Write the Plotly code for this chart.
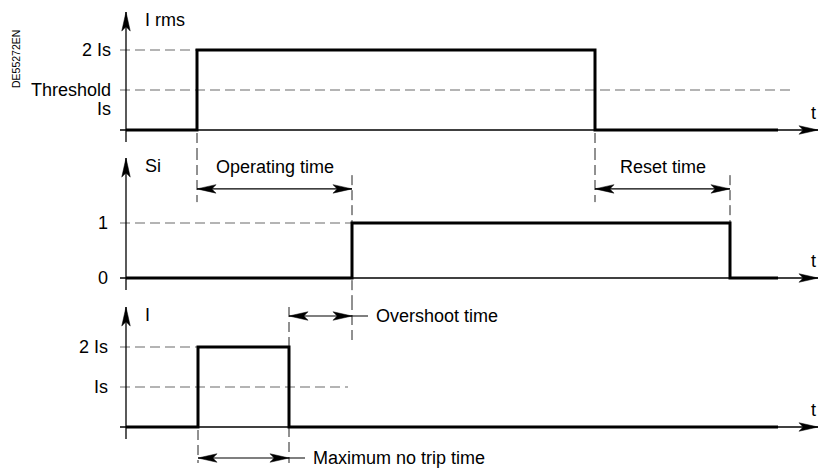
import plotly.graph_objects as go

# ---------------- data ----------------
irms_t = [0, 7.1, 7.1, 46.9, 46.9, 65.2]
irms_v = [0, 0, 2, 2, 0, 0]
si_t = [0, 22.6, 22.6, 60.4, 60.4, 65.2]
si_v = [0, 0, 1, 1, 0, 0]
i_t = [0, 7.2, 7.2, 16.3, 16.3, 65.2]
i_v = [0, 0, 2, 2, 0, 0]

irms_tickvals = [2, 1]
irms_ticktext = ["2 Is", "Threshold"]
si_tickvals = [1, 0]
si_ticktext = ["1", "0"]
i_tickvals = [2, 1]
i_ticktext = ["2 Is", "Is"]

axis_titles = ["I rms", "Si", "I"]
dim_labels = ["Operating time", "Reset time", "Overshoot time", "Maximum no trip time"]
t_axis_end = 69.2
threshold_end = 66.9
i_is_end = 22.2
doc_ref = "DE55272EN"

# ---------------- geometry ----------------
W, H = 822, 468
X_RANGE = [-12.6, 69.6]
PANELS = [
    dict(p0=0, p1=150, rng=[-0.5, 3.25], top=2.95),
    dict(p0=150, p1=300, rng=[-0.4, 2.3273], top=2.18),
    dict(p0=300, p1=468, rng=[-1.025, 3.175], top=3.0),
]
SX = (X_RANGE[1] - X_RANGE[0]) / W


def sy(k):
    p = PANELS[k]
    return (p["rng"][1] - p["rng"][0]) / (p["p1"] - p["p0"])


def ax(k):
    return ("x", "y") if k == 0 else ("x%d" % (k + 1), "y%d" % (k + 1))


FONT = "Liberation Sans, Arial, Helvetica, sans-serif"
fig = go.Figure()


def line(k, xs, ys, color="black", width=1.3, dash=None):
    xa, ya = ax(k)
    fig.add_trace(go.Scatter(x=xs, y=ys, mode="lines", xaxis=xa, yaxis=ya,
                             line=dict(color=color, width=width, dash=dash),
                             hoverinfo="skip", showlegend=False))


def arrowhead(k, tx, ty, ux, uy, L=19, Wd=8.5, notch=0.78):
    nx, ny = -uy, ux
    pts = [(0, 0),
           (-L * ux + Wd / 2 * nx, -L * uy + Wd / 2 * ny),
           (-L * notch * ux, -L * notch * uy),
           (-L * ux - Wd / 2 * nx, -L * uy - Wd / 2 * ny),
           (0, 0)]
    xa, ya = ax(k)
    fig.add_trace(go.Scatter(x=[tx + a * SX for a, b in pts],
                             y=[ty + b * sy(k) for a, b in pts],
                             mode="lines", fill="toself", fillcolor="black",
                             line=dict(color="black", width=0.5),
                             xaxis=xa, yaxis=ya, hoverinfo="skip", showlegend=False))


def text(k, x, y, s, xanchor="center", size=18):
    xa, ya = ax(k)
    fig.add_annotation(x=x, y=y, xref=xa, yref=ya, text=s, showarrow=False,
                       xanchor=xanchor, yanchor="middle",
                       font=dict(family=FONT, size=size, color="black"))


GREY = "#6b6b6b"
VD = "#222222"
DASH = "10px,5px"

# ---- horizontal reference dashes ----
x_left = -6 * SX
line(0, [x_left, irms_t[1]], [irms_tickvals[0]] * 2, GREY, 1.2, DASH)
line(0, [x_left, threshold_end], [irms_tickvals[1]] * 2, GREY, 1.2, DASH)
line(1, [x_left, si_t[1]], [si_tickvals[0]] * 2, GREY, 1.2, DASH)
line(2, [x_left, i_t[1]], [i_tickvals[0]] * 2, GREY, 1.2, DASH)
line(2, [x_left, i_is_end], [i_tickvals[1]] * 2, GREY, 1.2, DASH)

# ---- vertical dashed guides ----
for tx in (irms_t[1], irms_t[3]):
    line(0, [tx, tx], [-3 * sy(0), PANELS[0]["rng"][0]], VD, 1, DASH)
    line(1, [tx, tx], [PANELS[1]["rng"][1], 1.38], VD, 1, DASH)
line(1, [si_t[1], si_t[1]], [1.87, PANELS[1]["rng"][0]], VD, 1, DASH)
line(1, [si_t[3], si_t[3]], [1.87, si_v[3]], VD, 1, DASH)
line(2, [si_t[1], si_t[1]], [PANELS[2]["rng"][1], 2.125], VD, 1, DASH)
line(2, [i_t[3], i_t[3]], [3.0, -0.9], VD, 1, DASH)
line(2, [i_t[1], i_t[1]], [-3 * sy(2), -0.9], VD, 1, DASH)

# ---- axes with arrows ----
for k in range(3):
    p = PANELS[k]
    line(k, [0, 0], [-12 * sy(k), p["top"]], "black", 1.3)
    arrowhead(k, 0, p["top"], 0, 1)
    line(k, [x_left, t_axis_end], [0, 0], "black", 1.3)
    arrowhead(k, t_axis_end, 0, 1, 0)
    text(k, 68.7, 17 * sy(k), "t")
    text(k, 1.7, p["top"] - 7.5 * sy(k), axis_titles[k], xanchor="left")

# ---- signals ----
line(0, irms_t, irms_v, "black", 3)
line(1, si_t, si_v, "black", 3)
line(2, i_t, i_v, "black", 3)

# ---- tick labels ----
for v, s in zip(irms_tickvals, irms_ticktext):
    text(0, -1.3, v, s, xanchor="right")
text(0, -1.3, irms_tickvals[1] - 18.5 * sy(0), "Is", xanchor="right")
for v, s in zip(si_tickvals, si_ticktext):
    text(1, -1.6, v, s, xanchor="right")
for v, s in zip(i_tickvals, i_ticktext):
    text(2, -1.6, v, s, xanchor="right")

# ---- dimension arrows ----
dims = [
    (1, irms_t[1], si_t[1], 1.62, None),
    (1, irms_t[3], si_t[3], 1.62, None),
    (2, i_t[3], si_t[1], 2.775, 16),
    (2, i_t[1], i_t[3], -0.775, 16),
]
for n, (k, a, b, yv, ext) in enumerate(dims):
    end = b + (ext * SX if ext else 0)
    line(k, [a, end], [yv, yv], "black", 1.1)
    arrowhead(k, a, yv, -1, 0)
    arrowhead(k, b, yv, 1, 0)
    if ext:
        text(k, end + 6 * SX, yv, dim_labels[n], xanchor="left")
    else:
        text(k, (a + b) / 2, yv + 22 * sy(k), dim_labels[n])

fig.add_annotation(x=16 / W, y=1 - 59 / H, xref="paper", yref="paper", text=doc_ref,
                   showarrow=False, textangle=-90, xanchor="center", yanchor="middle",
                   font=dict(family=FONT, size=10.5, color="black"))

layout = dict(width=W, height=H, margin=dict(l=0, r=0, t=0, b=0),
              paper_bgcolor="white", plot_bgcolor="white", showlegend=False)
for k in range(3):
    p = PANELS[k]
    xs = "xaxis" if k == 0 else "xaxis%d" % (k + 1)
    ys = "yaxis" if k == 0 else "yaxis%d" % (k + 1)
    layout[xs] = dict(range=X_RANGE, domain=[0, 1], visible=False, fixedrange=True,
                      anchor=ax(k)[1])
    layout[ys] = dict(range=p["rng"], domain=[1 - p["p1"] / H, 1 - p["p0"] / H],
                      visible=False, fixedrange=True, anchor=ax(k)[0])
fig.update_layout(**layout)
fig.write_html("out.html", config={"displayModeBar": False},
               post_script="document.body.style.margin='0';document.body.style.overflow='hidden';")
